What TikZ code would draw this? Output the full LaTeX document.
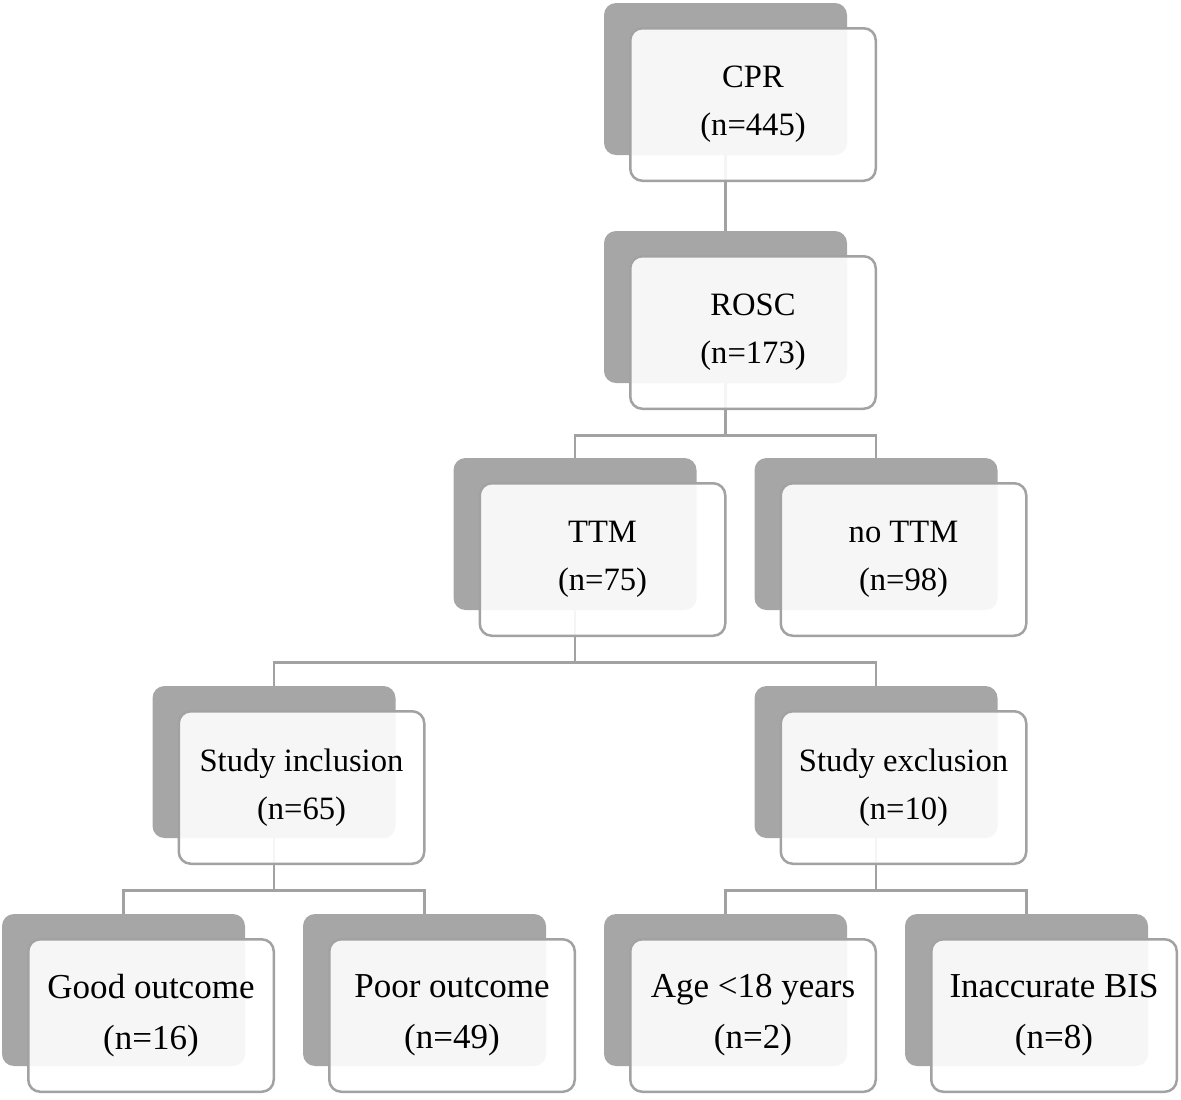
\documentclass[tikz,border=0pt]{standalone}
\usepackage{fontspec}
\setmainfont{Liberation Serif}
\usetikzlibrary{positioning}
\definecolor{shade}{HTML}{A6A6A6}
\definecolor{rim}{HTML}{A2A2A2}
\tikzset{
    x=0.5pt, y=-0.5pt, % one unit is one pixel of the layout
    backbox/.style={fill=shade, rounded corners=6pt, minimum width=121.5pt, minimum height=76pt, inner sep=0pt}, % dark box behind
    frontbox/.style={draw=rim, line width=1.25pt, fill=white, fill opacity=0.9, text opacity=1,
        rounded corners=6pt, minimum width=122.75pt, minimum height=76.25pt, inner sep=0pt,
        align=center, font=\fontsize{16.3}{24}\selectfont}, % light box in front
    leafbox/.style={frontbox, font=\fontsize{17.5}{25.5}\selectfont}, % bottom row has larger text
    link/.style={draw=rim, line width=1.25pt}, % the connectors
}

\begin{document}
\begin{tikzpicture}
    \useasboundingbox (0,0) rectangle (1181,1099);
    % back boxes
    \node[backbox] (cprB) at (725.5,79) {};
    \node[backbox] (roscB) at (725.5,307) {};
    \node[backbox] (ttmB) at (575,534) {};
    \node[backbox] (nottmB) at (876,534) {};
    \node[backbox] (inclB) at (274,762) {};
    \node[backbox] (exclB) at (876,762) {};
    \node[backbox] (goodB) at (123.5,990) {};
    \node[backbox] (poorB) at (424.5,990) {};
    \node[backbox] (ageB) at (725.5,990) {};
    \node[backbox] (bisB) at (1026.5,990) {};
    % connectors
    \draw[link] (cprB.south) -- (roscB.north);
    \draw[link] (roscB.south) -- ++(0,52) -| (ttmB.north);
    \draw[link] (roscB.south) -- ++(0,52) -| (nottmB.north);
    \draw[link] (ttmB.south) -- ++(0,52) -| (inclB.north);
    \draw[link] (ttmB.south) -- ++(0,52) -| (exclB.north);
    \draw[link] (inclB.south) -- ++(0,52) -| (goodB.north);
    \draw[link] (inclB.south) -- ++(0,52) -| (poorB.north);
    \draw[link] (exclB.south) -- ++(0,52) -| (ageB.north);
    \draw[link] (exclB.south) -- ++(0,52) -| (bisB.north);
    % front boxes
    \node[frontbox] (cpr) at ([shift={(27.5,25.5)}]cprB) {CPR\\(n=445)};
    \node[frontbox] (rosc) at ([shift={(27.5,25.5)}]roscB) {ROSC\\(n=173)};
    \node[frontbox] (ttm) at ([shift={(27.5,25.5)}]ttmB) {TTM\\(n=75)};
    \node[frontbox] (nottm) at ([shift={(27.5,25.5)}]nottmB) {no TTM\\(n=98)};
    \node[frontbox] (incl) at ([shift={(27.5,25.5)}]inclB) {Study inclusion\\(n=65)};
    \node[frontbox] (excl) at ([shift={(27.5,25.5)}]exclB) {Study exclusion\\(n=10)};
    \node[leafbox] (good) at ([shift={(27.5,25.5)}]goodB) {Good outcome\\(n=16)};
    \node[leafbox] (poor) at ([shift={(27.5,25.5)}]poorB) {Poor outcome\\(n=49)};
    \node[leafbox] (age) at ([shift={(27.5,25.5)}]ageB) {Age <18 years\\(n=2)};
    \node[leafbox] (bis) at ([shift={(27.5,25.5)}]bisB) {Inaccurate BIS\\(n=8)};
\end{tikzpicture}
\end{document}
